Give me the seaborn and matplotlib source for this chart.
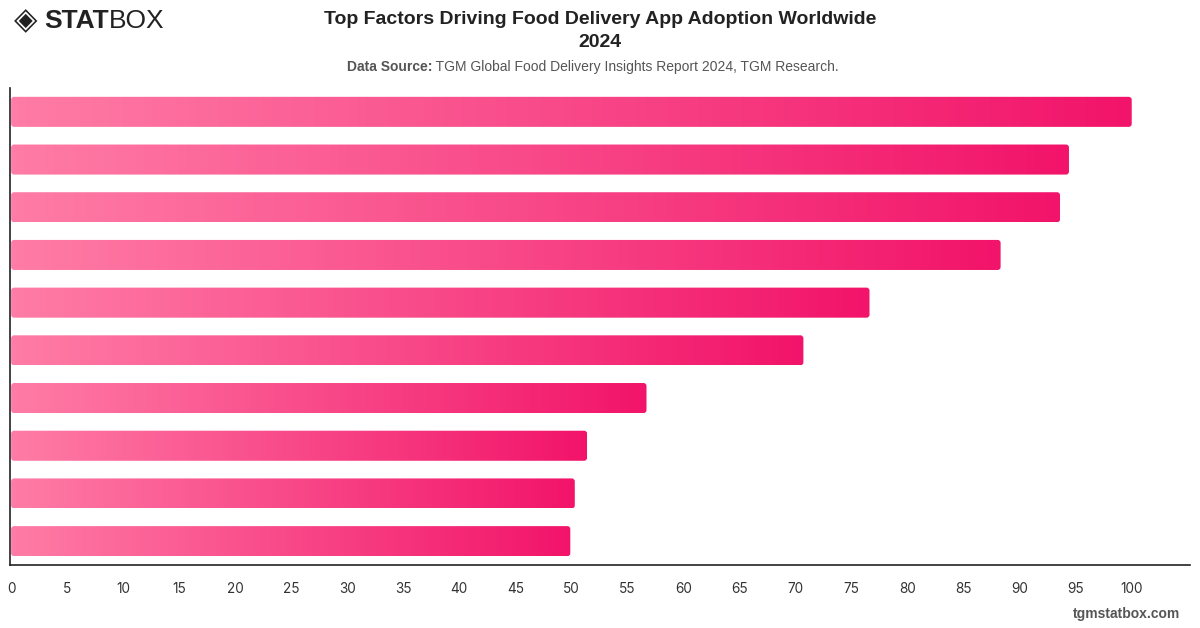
import numpy as np
import pandas as pd
import matplotlib
matplotlib.use("Agg")
import matplotlib.pyplot as plt
import seaborn as sns
from matplotlib.colors import LinearSegmentedColormap
from matplotlib.patches import FancyBboxPatch

categories = [
    "Convenience", "Time Saving", "Wide Restaurant Choice", "Easy Payment Options",
    "Discounts & Offers", "Contactless Delivery", "Real-time Tracking",
    "Ratings & Reviews", "Loyalty Programs", "Late-night Availability",
]
values = [100, 94.4, 93.6, 88.3, 76.6, 70.7, 56.7, 51.4, 50.3, 49.9]
xticks = list(range(0, 101, 5))

title = "Top Factors Driving Food Delivery App Adoption Worldwide\n2024"
source_bold = "Data Source:"
source_text = " TGM Global Food Delivery Insights Report 2024, TGM Research."

sns.set_theme(style="white")
plt.rcParams["font.family"] = ["Liberation Sans", "DejaVu Sans"]

fig = plt.figure(figsize=(12, 6.28), dpi=100)
ax = fig.add_axes([10/1200, 1 - 565/628, 1180/1200, 477/628])

df = pd.DataFrame({"factor": categories, "value": values})
sns.barplot(data=df, y="factor", x="value", orient="h", ax=ax,
            color="#F5206E", width=0.63, saturation=1)

ax.set_xlim(-0.1, 105.2)
ax.set_ylim(9.5, -0.5)
ax.set_xticks(xticks)
ax.set_xticklabels([str(t) for t in xticks], fontsize=9.8, color="#333333",
                   family=["Inter", "Liberation Sans"])
ax.tick_params(axis="x", length=0, pad=12.5)
ax.set_yticks([])
ax.set_xlabel("")
ax.set_ylabel("")
for s in ["top", "right"]:
    ax.spines[s].set_visible(False)
for s in ["left", "bottom"]:
    ax.spines[s].set_color("#222222")
    ax.spines[s].set_linewidth(1.2)

cmap = LinearSegmentedColormap.from_list("pinkgrad", ["#FF7CA6", "#F2146A"])
grad = np.linspace(0, 1, 256).reshape(1, -1)
xpx = 1180 / 105.3
ypx = 477 / 10.0
for p in list(ax.patches):
    x0, y0 = p.get_x(), p.get_y()
    w, h = p.get_width(), p.get_height()
    p.set_visible(False)
    clip = FancyBboxPatch((x0, y0), w, h,
                          boxstyle="round,pad=0,rounding_size=%f" % (3 / xpx),
                          mutation_aspect=xpx / ypx,
                          transform=ax.transData, facecolor="none", edgecolor="none")
    ax.add_patch(clip)
    im = ax.imshow(grad, cmap=cmap, aspect="auto", extent=(x0, x0 + w, y0 + h, y0),
                   interpolation="bicubic", zorder=2)
    im.set_clip_path(clip)

ax.set_xlim(-0.1, 105.2)
ax.set_ylim(9.5, -0.5)

# Title and subtitle
fig.text(0.5, 1 - 31/628, title, ha="center", va="center", fontsize=14,
         fontweight="bold", color="#222222", linespacing=1.42)
t1 = fig.text(347/1200, 1 - 67/628, source_bold, ha="left", va="center",
              fontsize=10, fontweight="bold", color="#555555")
fig.canvas.draw()
bb = t1.get_window_extent()
fig.text(bb.x1 / 1200, 1 - 67/628, source_text, ha="left", va="center",
         fontsize=10, color="#555555")

# Logo
fig.text(14/1200, 1 - 21/628, "\u25C8", ha="left", va="center", fontsize=22,
         color="#222222", family=["DejaVu Sans"])
t2 = fig.text(44/1200, 1 - 21/628, "STAT", ha="left", va="center", fontsize=19,
              fontweight="heavy", color="#222222")
fig.canvas.draw()
bb2 = t2.get_window_extent()
fig.text(bb2.x1 / 1200, 1 - 21/628, "BOX", ha="left", va="center", fontsize=19,
         color="#222222")

# Footer
fig.text(1180/1200, 1 - 614/628, "tgmstatbox.com", ha="right", va="center",
         fontsize=10, fontweight="bold", color="#555555")

fig.savefig("out.png", dpi=100)
